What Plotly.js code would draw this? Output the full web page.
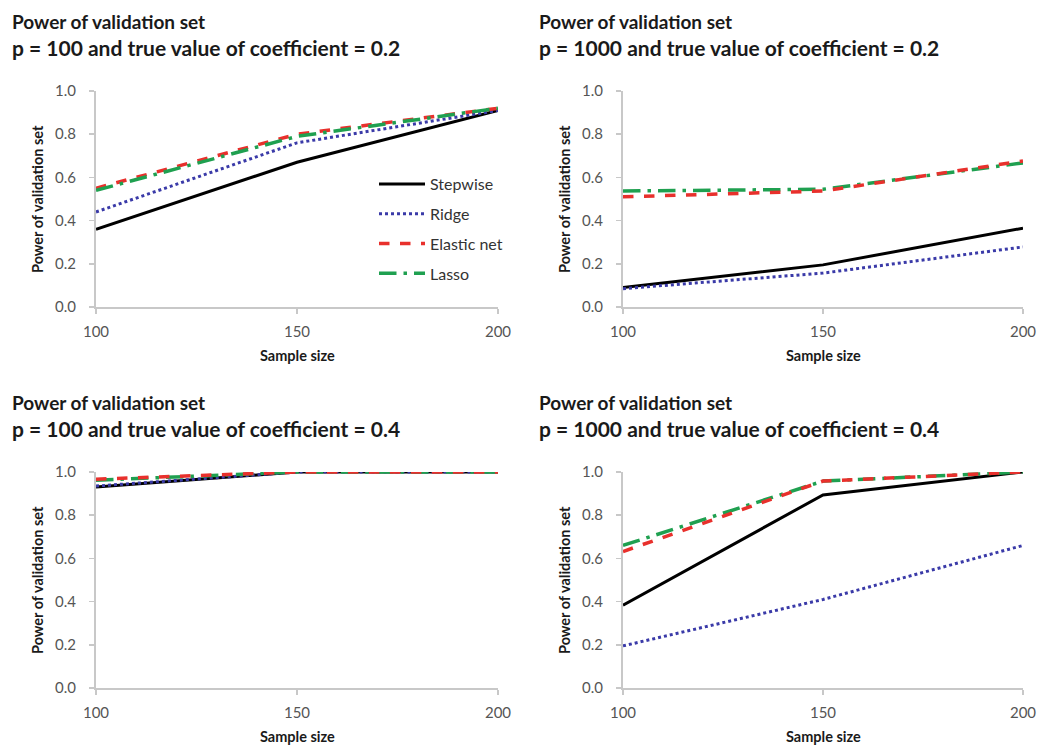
<!DOCTYPE html>
<html>
<head>
<meta charset="utf-8">
<script src="https://cdn.plot.ly/plotly-3.0.1.min.js"></script>
<style>html,body{margin:0;padding:0;background:#fff;}#chart{width:1041px;height:746px;}</style>
</head>
<body>
<div id="chart"></div>
<script>
// ---- data ----
const sampleSizes = [100, 150, 200];
const methods = ["Stepwise", "Ridge", "Elastic net", "Lasso"];

// Panel A: p = 100, coefficient = 0.2
const p100c02_stepwise = [0.36, 0.67, 0.91];
const p100c02_ridge    = [0.44, 0.76, 0.91];
const p100c02_elastic  = [0.55, 0.80, 0.92];
const p100c02_lasso    = [0.54, 0.79, 0.92];

// Panel B: p = 1000, coefficient = 0.2
const p1000c02_stepwise = [0.09, 0.195, 0.365];
const p1000c02_ridge    = [0.085, 0.157, 0.278];
const p1000c02_elastic  = [0.51, 0.537, 0.676];
const p1000c02_lasso    = [0.537, 0.545, 0.667];

// Panel C: p = 100, coefficient = 0.4
const p100c04_stepwise = [0.93, 1.0, 1.0];
const p100c04_ridge    = [0.935, 1.0, 1.0];
const p100c04_elastic  = [0.967, 1.0, 1.0];
const p100c04_lasso    = [0.962, 1.0, 1.0];

// Panel D: p = 1000, coefficient = 0.4
const p1000c04_stepwise = [0.383, 0.894, 1.0];
const p1000c04_ridge    = [0.195, 0.41, 0.66];
const p1000c04_elastic  = [0.632, 0.958, 1.0];
const p1000c04_lasso    = [0.66, 0.958, 1.0];

const titleLine1 = "Power of validation set";
const titleLine2 = [
  "p = 100 and true value of coefficient = 0.2",
  "p = 1000 and true value of coefficient = 0.2",
  "p = 100 and true value of coefficient = 0.4",
  "p = 1000 and true value of coefficient = 0.4"
];
const xTitle = "Sample size";
const yTitle = "Power of validation set";

// ---- styles ----
const styles = [
  {color: "#000000", dash: "solid", width: 3},
  {color: "#3a3aa8", dash: "dot", width: 3},
  {color: "#e8302c", dash: "dash", width: 3.5},
  {color: "#1fa050", dash: "longdashdot", width: 3.5}
];

const panels = [
  [p100c02_stepwise, p100c02_ridge, p100c02_elastic, p100c02_lasso],
  [p1000c02_stepwise, p1000c02_ridge, p1000c02_elastic, p1000c02_lasso],
  [p100c04_stepwise, p100c04_ridge, p100c04_elastic, p100c04_lasso],
  [p1000c04_stepwise, p1000c04_ridge, p1000c04_elastic, p1000c04_lasso]
];

const W = 1041, H = 746;
const xDomPx = [[96, 498], [623, 1023], [96, 498], [623, 1023]];
const yDomPx = [[91, 307], [91, 307], [472, 688], [472, 688]];

const traces = [];
panels.forEach((series, pi) => {
  const order = pi === 0 ? [0, 1, 2, 3] : [0, 1, 3, 2];
  order.forEach(mi => {
    traces.push({
      x: sampleSizes, y: series[mi], type: "scatter", mode: "lines",
      name: methods[mi], legendgroup: "g" + mi,
      showlegend: pi === 0,
      xaxis: pi === 0 ? "x" : "x" + (pi + 1),
      yaxis: pi === 0 ? "y" : "y" + (pi + 1),
      line: {color: styles[mi].color, dash: styles[mi].dash, width: styles[mi].width},
      hoverinfo: "skip"
    });
  });
});

const font = "Lato, Open Sans, sans-serif";
const layout = {
  width: W, height: H,
  margin: {l: 0, r: 0, t: 0, b: 0},
  paper_bgcolor: "#fff", plot_bgcolor: "#fff",
  font: {family: font, color: "#404040"},
  showlegend: true,
  legend: {
    x: 374 / W, y: 1 - 167 / H, xanchor: "left", yanchor: "top",
    bgcolor: "rgba(0,0,0,0)", font: {size: 16, color: "#333333", family: font},
    itemwidth: 46, tracegroupgap: 6, traceorder: "grouped"
  },
  annotations: [],
  shapes: []
};

for (let i = 0; i < 4; i++) {
  const sfx = i === 0 ? "" : String(i + 1);
  const xd = [xDomPx[i][0] / W, xDomPx[i][1] / W];
  const yd = [1 - yDomPx[i][1] / H, 1 - yDomPx[i][0] / H];
  layout["xaxis" + sfx] = {
    domain: xd, range: [100, 200], tickvals: sampleSizes, ticktext: sampleSizes.map(String),
    anchor: "y" + sfx, showgrid: false, zeroline: false,
    showline: true, linecolor: "#c8c8c8", linewidth: 2,
    ticks: "outside", ticklen: 5, tickcolor: "#c8c8c8", tickwidth: 1.5,
    ticklabelstandoff: 5,
    tickfont: {size: 15, color: "#555555", family: font}, fixedrange: true
  };
  layout["yaxis" + sfx] = {
    domain: yd, range: [0, 1], dtick: 0.2, tick0: 0, tickformat: ".1f",
    anchor: "x" + sfx, showgrid: false, zeroline: false,
    showline: true, linecolor: "#c8c8c8", linewidth: 2,
    ticks: "outside", ticklen: 5, tickcolor: "#c8c8c8", tickwidth: 1.5,
    ticklabelstandoff: 10,
    tickfont: {size: 15, color: "#555555", family: font}, fixedrange: true
  };
  const titleX = (i % 2 === 0) ? 10 : 537;
  const line1Y = (i < 2) ? 21 : 402;
  const line2Y = (i < 2) ? 47 : 428;
  layout.annotations.push({
    xref: "paper", yref: "paper", x: titleX / W, y: 1 - line1Y / H,
    xanchor: "left", yanchor: "middle", align: "left", showarrow: false,
    text: "<b>" + titleLine1 + "</b>",
    font: {size: 19, color: "#1a1a1a", family: font}
  });
  layout.annotations.push({
    xref: "paper", yref: "paper", x: titleX / W, y: 1 - line2Y / H,
    xanchor: "left", yanchor: "middle", align: "left", showarrow: false,
    text: "<b>" + titleLine2[i] + "</b>",
    font: {size: 21, color: "#1a1a1a", family: font}
  });
  layout.annotations.push({
    xref: "paper", yref: "paper",
    x: ((xDomPx[i][0] + xDomPx[i][1]) / 2) / W, y: 1 - (yDomPx[i][1] + 48) / H,
    xanchor: "center", yanchor: "middle", showarrow: false,
    text: "<b>" + xTitle + "</b>", font: {size: 14.5, color: "#1a1a1a", family: font}
  });
  layout.annotations.push({
    xref: "paper", yref: "paper",
    x: (xDomPx[i][0] - 59) / W, y: 1 - ((yDomPx[i][0] + yDomPx[i][1]) / 2) / H,
    xanchor: "center", yanchor: "middle", showarrow: false, textangle: -90,
    text: "<b>" + yTitle + "</b>", font: {size: 14.5, color: "#1a1a1a", family: font}
  });
}

Plotly.newPlot("chart", traces, layout, {displayModeBar: false, staticPlot: true});
</script>
</body>
</html>
